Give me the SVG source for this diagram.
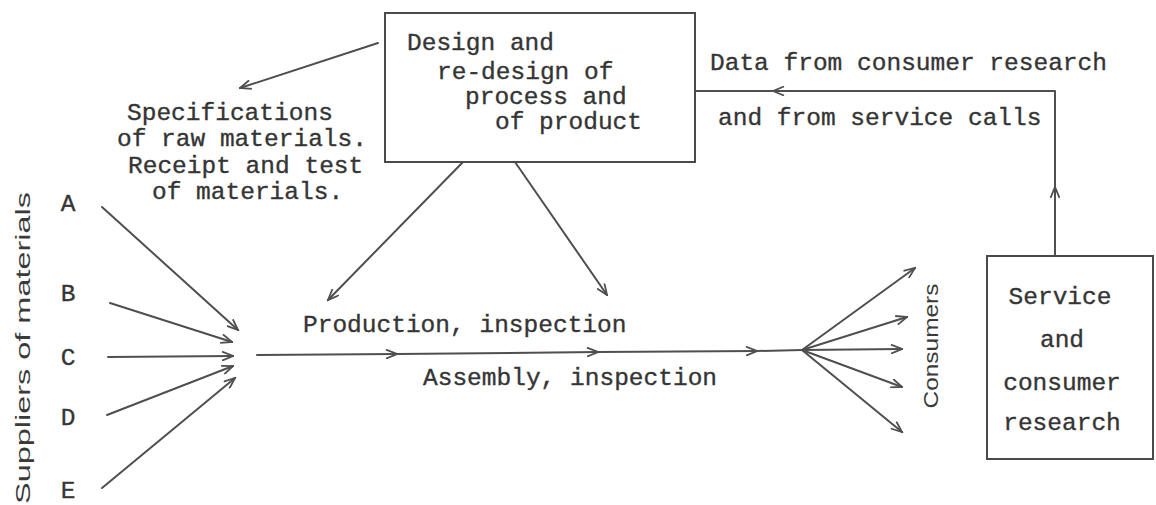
<svg xmlns="http://www.w3.org/2000/svg" width="1156" height="505" viewBox="0 0 1156 505">
<style>
  .bg { fill: #ffffff; }
  .box { fill: #ffffff; stroke: #4a4a4a; stroke-width: 2; }
  .ln { fill: none; stroke: #4f4f4f; stroke-width: 2; stroke-linecap: round; stroke-linejoin: round; }
  .t { font-family: "Liberation Mono", "Courier New", monospace; font-size: 24.5px; fill: #353535; stroke: #353535; stroke-width: 0.35; }
  .s { font-family: "Liberation Sans", Arial, sans-serif; font-size: 20px; fill: #3a3a3a; }
  .m { text-anchor: middle; }
</style>
<defs>
  <marker id="ah" viewBox="0 0 12 10" refX="11" refY="5" markerWidth="13" markerHeight="10" markerUnits="userSpaceOnUse" orient="auto">
    <path d="M0,0.5 L11,5 L0,9.5" fill="none" stroke="#4f4f4f" stroke-width="1.8"/>
  </marker>
</defs>
<rect class="bg" x="0" y="0" width="1156" height="505"/>

<g id="connectors">
  <!-- design box to specifications -->
  <line class="ln" x1="378" y1="43" x2="240" y2="88" marker-end="url(#ah)"/>
  <!-- design box to production -->
  <line class="ln" x1="463" y1="162" x2="328" y2="300" marker-end="url(#ah)"/>
  <line class="ln" x1="515" y1="162" x2="607" y2="295" marker-end="url(#ah)"/>
  <!-- suppliers -->
  <line class="ln" x1="102" y1="207" x2="238" y2="330" marker-end="url(#ah)"/>
  <line class="ln" x1="110" y1="303" x2="232" y2="342" marker-end="url(#ah)"/>
  <line class="ln" x1="108" y1="357" x2="233" y2="356" marker-end="url(#ah)"/>
  <line class="ln" x1="107" y1="415" x2="233" y2="366" marker-end="url(#ah)"/>
  <line class="ln" x1="102" y1="488" x2="235" y2="378" marker-end="url(#ah)"/>
  <!-- main line -->
  <polyline class="ln" points="257,355 397,354 598,352 757,351 802,350" marker-mid="url(#ah)"/>
  <!-- fan to consumers -->
  <line class="ln" x1="802" y1="350" x2="915" y2="268" marker-end="url(#ah)"/>
  <line class="ln" x1="802" y1="350" x2="907" y2="317" marker-end="url(#ah)"/>
  <line class="ln" x1="802" y1="350" x2="902" y2="349" marker-end="url(#ah)"/>
  <line class="ln" x1="802" y1="350" x2="902" y2="387" marker-end="url(#ah)"/>
  <line class="ln" x1="802" y1="350" x2="902" y2="432" marker-end="url(#ah)"/>
  <!-- feedback -->
  <line class="ln" x1="1055" y1="256" x2="1055" y2="187" marker-end="url(#ah)"/>
  <polyline class="ln" points="1055,187 1055,91 773,91" marker-end="url(#ah)"/>
  <line class="ln" x1="773" y1="91" x2="695" y2="91"/>
</g>

<g id="design-box">
  <rect class="box" x="385" y="13" width="310" height="149"/>
  <text class="t" x="407" y="50">Design and</text>
  <text class="t" x="437" y="79">re-design of</text>
  <text class="t" x="465" y="104">process and</text>
  <text class="t" x="495" y="129">of product</text>
</g>

<g id="specifications">
  <text class="t" x="127" y="120">Specifications</text>
  <text class="t" x="117" y="146">of raw materials.</text>
  <text class="t" x="128" y="173">Receipt and test</text>
  <text class="t" x="152" y="199">of materials.</text>
</g>

<g id="suppliers">
  <text class="s m" transform="translate(30,348) rotate(-90)" textLength="312" lengthAdjust="spacingAndGlyphs">Suppliers of materials</text>
  <text class="t m" x="68" y="211">A</text>
  <text class="t m" x="68" y="301">B</text>
  <text class="t m" x="68" y="365">C</text>
  <text class="t m" x="68" y="425">D</text>
  <text class="t m" x="68" y="498">E</text>
</g>

<g id="production">
  <text class="t" x="303" y="332">Production, inspection</text>
  <text class="t" x="423" y="385">Assembly, inspection</text>
</g>

<g id="consumers">
  <text class="s m" transform="translate(938,346) rotate(-90)" textLength="125" lengthAdjust="spacingAndGlyphs">Consumers</text>
</g>

<g id="service-box">
  <rect class="box" x="987" y="256" width="166" height="203"/>
  <text class="t m" x="1060" y="304">Service</text>
  <text class="t m" x="1062" y="347">and</text>
  <text class="t m" x="1062" y="390">consumer</text>
  <text class="t m" x="1062" y="430">research</text>
</g>

<g id="feedback-labels">
  <text class="t" x="710" y="70">Data from consumer research</text>
  <text class="t" x="718" y="125">and from service calls</text>
</g>
</svg>
